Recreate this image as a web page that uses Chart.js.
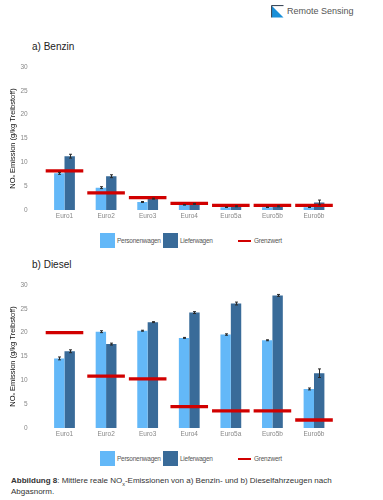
<!DOCTYPE html>
<html>
<head>
<meta charset="utf-8">
<script src="https://cdn.jsdelivr.net/npm/chart.js@4/dist/chart.umd.min.js"></script>
<style>
  html, body { margin:0; padding:0; background:#fff; }
  body { width:383px; height:500px; position:relative; overflow:hidden; font-family:"Liberation Sans", Arial, sans-serif; }
  .abs { position:absolute; }
  canvas { position:absolute; left:0; }
  .title { font-size:10px; color:#222; left:32px; }
  .lg { font-size:6.5px; letter-spacing:-0.25px; color:#555; white-space:nowrap; }
  .box { width:15px; height:15px; box-sizing:border-box; }
  .caption { left:11px; font-size:8px; color:#333; line-height:11px; width:372px; white-space:nowrap; }
</style>
</head>
<body>
<svg class="abs" style="left:271px;top:5px" width="13" height="13" viewBox="0 0 13 13">
  <rect x="0.5" y="0.5" width="12" height="12" fill="#fff" stroke="#fff"/>
  <polygon points="1,1 1,12.5 12.5,12.5" fill="#1a8fd8"/>
  <line x1="0.5" y1="0.5" x2="12.5" y2="0.5" stroke="#3d4a5a" stroke-width="1.2"/>
  <line x1="0.5" y1="0.5" x2="0.5" y2="12.5" stroke="#3d4a5a" stroke-width="1.2"/>
</svg>
<div class="abs" style="left:287px;top:6px;font-size:9px;color:#555;">Remote Sensing</div>

<div class="abs title" style="top:41px;">a) Benzin</div>
<canvas id="cA" width="383" height="183" style="top:47px"></canvas>
<div class="abs box" style="left:100px;top:233px;background:#63b8f8;"></div>
<div class="abs lg" style="left:117px;top:237px;">Personenwagen</div>
<div class="abs box" style="left:163px;top:233px;background:#396b99;"></div>
<div class="abs lg" style="left:180px;top:237px;">Lieferwagen</div>
<div class="abs" style="left:238px;top:240px;width:13px;height:2px;background:#d10000;"></div>
<div class="abs lg" style="left:254px;top:237px;">Grenzwert</div>

<div class="abs title" style="top:259px;">b) Diesel</div>
<canvas id="cB" width="383" height="183" style="top:265px"></canvas>
<div class="abs box" style="left:100px;top:451px;background:#63b8f8;"></div>
<div class="abs lg" style="left:117px;top:455px;">Personenwagen</div>
<div class="abs box" style="left:163px;top:451px;background:#396b99;"></div>
<div class="abs lg" style="left:180px;top:455px;">Lieferwagen</div>
<div class="abs" style="left:238px;top:458px;width:13px;height:2px;background:#d10000;"></div>
<div class="abs lg" style="left:254px;top:455px;">Grenzwert</div>

<div class="abs caption" style="top:475px;"><b>Abbildung 8</b>: Mittlere reale NO<sub style="font-size:5.5px;line-height:0">x</sub>-Emissionen von a) Benzin- und b) Dieselfahrzeugen nach<br>Abgasnorm.</div>

<script>
const categories = ['Euro1','Euro2','Euro3','Euro4','Euro5a','Euro5b','Euro6b'];
const yTicks = [0, 5, 10, 15, 20, 25, 30];

const benzinPW = [7.7, 4.7, 1.7, 1.1, 0.6, 0.6, 0.6];
const benzinLW = [11.3, 7.1, 2.4, 1.3, 0.8, 0.8, 1.6];
const benzinPWErr = [0.2, 0.2, 0.1, 0.05, 0.05, 0.05, 0.05];
const benzinLWErr = [0.4, 0.3, 0.1, 0.1, 0.1, 0.1, 0.5];
const benzinLimit = [8.2, 3.6, 2.6, 1.4, 1.0, 1.0, 1.0];

const dieselPW = [14.6, 20.2, 20.4, 18.9, 19.6, 18.4, 8.2];
const dieselLW = [16.1, 17.6, 22.2, 24.2, 26.1, 27.8, 11.5];
const dieselPWErr = [0.3, 0.2, 0.1, 0.1, 0.15, 0.1, 0.2];
const dieselLWErr = [0.3, 0.2, 0.1, 0.2, 0.3, 0.2, 0.9];
const dieselLimit = [20.0, 10.9, 10.3, 4.5, 3.6, 3.6, 1.7];

const seriesNames = ['Personenwagen', 'Lieferwagen', 'Grenzwert'];
const colPW = '#63b8f8', colLW = '#396b99', colLimit = '#d10000';
const FONT = '"Liberation Sans", Arial, sans-serif';

const errorBars = {
  id: 'errorBars',
  afterDatasetsDraw(chart, args, opts) {
    const ctx = chart.ctx;
    const y = chart.scales.y;
    ctx.save();
    ctx.strokeStyle = '#2a2a2a';
    ctx.lineWidth = 1;
    opts.errors.forEach((errs, di) => {
      const meta = chart.getDatasetMeta(di);
      const vals = chart.data.datasets[di].data;
      meta.data.forEach((bar, i) => {
        const e = errs[i];
        const top = y.getPixelForValue(vals[i] + e);
        const bot = y.getPixelForValue(vals[i] - e);
        const x = Math.round(bar.x) + 0.5;
        ctx.beginPath();
        ctx.moveTo(x, top); ctx.lineTo(x, bot);
        ctx.moveTo(x - 1.5, top); ctx.lineTo(x + 1.5, top);
        ctx.moveTo(x - 1.5, bot); ctx.lineTo(x + 1.5, bot);
        ctx.stroke();
      });
    });
    ctx.restore();
  }
};

function makeChart(id, pw, lw, pwErr, lwErr, limit) {
  return new Chart(document.getElementById(id), {
    type: 'bar',
    data: {
      labels: categories,
      datasets: [
        { label: seriesNames[0], data: pw, backgroundColor: colPW, borderWidth: 0, order: 2,
          categoryPercentage: 0.5, barPercentage: 1.0 },
        { label: seriesNames[1], data: lw, backgroundColor: colLW, borderWidth: 0, order: 2,
          categoryPercentage: 0.5, barPercentage: 1.0 },
        { label: seriesNames[2], type: 'line', data: limit, showLine: false, order: 0,
          pointStyle: 'line', pointRadius: 18.8, pointHoverRadius: 18.8,
          borderColor: colLimit, backgroundColor: colLimit, pointBorderWidth: 3.3, borderWidth: 3.3 }
      ]
    },
    options: {
      responsive: false,
      animation: false,
      events: [],
      layout: { autoPadding: false, padding: { top: 0, bottom: 0, left: 0, right: 48.2 } },
      plugins: {
        legend: { display: false },
        tooltip: { enabled: false },
        errorBars: { errors: [pwErr, lwErr] }
      },
      scales: {
        x: {
          grid: { display: false, drawTicks: false },
          border: { display: false },
          ticks: { color: '#888', font: { family: FONT, size: 6.5 }, padding: 2, maxRotation: 0 },
          afterFit: s => { s.height = 14; }
        },
        y: {
          min: 0, max: 30,
          afterBuildTicks: s => { s.ticks = yTicks.map(v => ({ value: v })); },
          grid: { display: false, drawTicks: false },
          border: { display: false },
          ticks: { color: '#888', font: { family: FONT, size: 6.5 }, padding: 16 },
          title: { display: true, text: 'NOₓ Emission (g/kg Treibstoff)', color: '#111',
                   font: { family: FONT, size: 7.5 }, padding: { top: 8, bottom: 0 } },
          afterFit: s => { s.width = 43.7; }
        }
      }
    },
    plugins: [errorBars]
  });
}

makeChart('cA', benzinPW, benzinLW, benzinPWErr, benzinLWErr, benzinLimit);
makeChart('cB', dieselPW, dieselLW, dieselPWErr, dieselLWErr, dieselLimit);
</script>
</body>
</html>
